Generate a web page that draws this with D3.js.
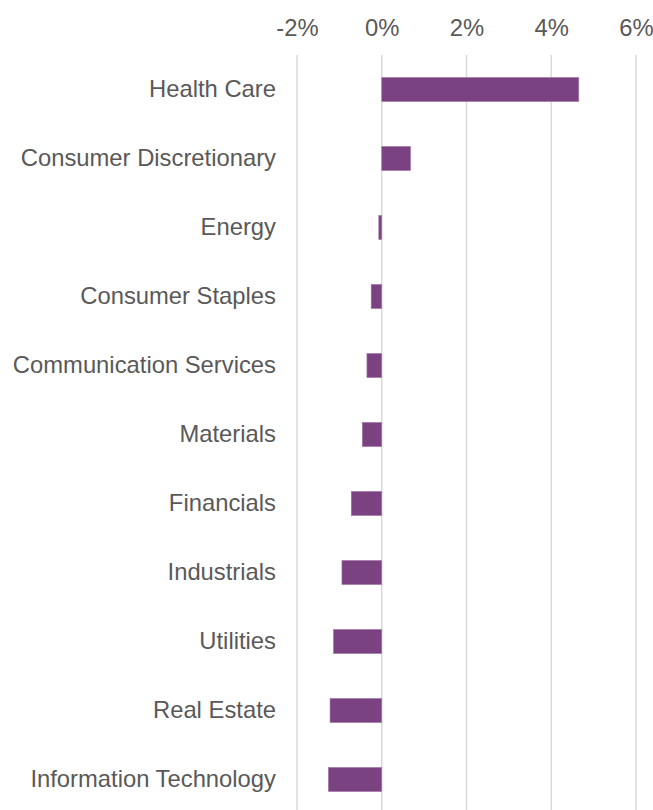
<!DOCTYPE html>
<html>
<head>
<meta charset="utf-8">
<script src="https://cdn.jsdelivr.net/npm/d3@7"></script>
<style>
  body { margin: 0; background: #fff; }
  svg text { font-family: "Liberation Sans", Arial, sans-serif; fill: #595959; }
</style>
</head>
<body>
<svg id="chart" width="653" height="810"></svg>
<script>
/* Sector returns, in percent */
const sectors = [
    "Health Care", "Consumer Discretionary", "Energy", "Consumer Staples",
    "Communication Services", "Materials", "Financials", "Industrials",
    "Utilities", "Real Estate", "Information Technology"
];
const returns = [4.65, 0.68, -0.07, -0.25, -0.35, -0.46, -0.72, -0.94, -1.14, -1.22, -1.26];
const tickValues = [-2, 0, 2, 4, 6];

const svg = d3.select("#chart");
const margin = { top: 55, right: 18, bottom: -4, left: 297 };
const width = 653;
const height = 810;
const fontSize = "23.8px";

const data = sectors.map((s, i) => ({ sector: s, value: returns[i] }));

/* x scale, -2% .. 6% */
const x = d3.scaleLinear()
    .domain([-2, 6])
    .range([margin.left, 636]);

const y = d3.scaleBand()
    .domain(sectors)
    .range([margin.top, height - margin.bottom])
    .paddingInner(0.65)
    .paddingOuter(0.325);

/* gridlines */
svg.append("g")
    .attr("class", "grid")
    .selectAll("line")
    .data(tickValues)
    .enter()
    .append("line")
    .attr("x1", d => x(d))
    .attr("x2", d => x(d))
    .attr("y1", margin.top)
    .attr("y2", height)
    .style("stroke", "#d9d9d9")
    .style("stroke-width", 1.5);

/* top axis labels */
const xAxis = d3.axisTop(x)
    .tickValues(tickValues)
    .tickFormat(d => d + "%")
    .tickSize(0)
    .tickPadding(0);

svg.append("g")
    .attr("class", "xAxis")
    .attr("transform", "translate(0, 35.5)")
    .call(xAxis)
    .call(g => g.select(".domain").remove())
    .selectAll("text")
    .style("font-size", fontSize)
    .style("fill", "#595959")
    .style("font-family", "'Liberation Sans', Arial, sans-serif");

/* bars */
svg.append("g")
    .selectAll("rect")
    .data(data)
    .enter()
    .append("rect")
    .attr("x", d => x(Math.min(0, d.value)))
    .attr("width", d => Math.abs(x(d.value) - x(0)))
    .attr("y", d => y(d.sector))
    .attr("height", y.bandwidth())
    .style("fill", "#7b4282")
    .style("stroke", "#a77aac")
    .style("stroke-width", 0.6);

/* category labels */
const yAxis = d3.axisLeft(y)
    .tickSize(0)
    .tickPadding(0);

svg.append("g")
    .attr("class", "yAxis")
    .attr("transform", "translate(276, 0)")
    .call(yAxis)
    .call(g => g.select(".domain").remove())
    .selectAll("text")
    .style("font-size", fontSize)
    .style("fill", "#595959")
    .style("font-family", "'Liberation Sans', Arial, sans-serif");
</script>
</body>
</html>
